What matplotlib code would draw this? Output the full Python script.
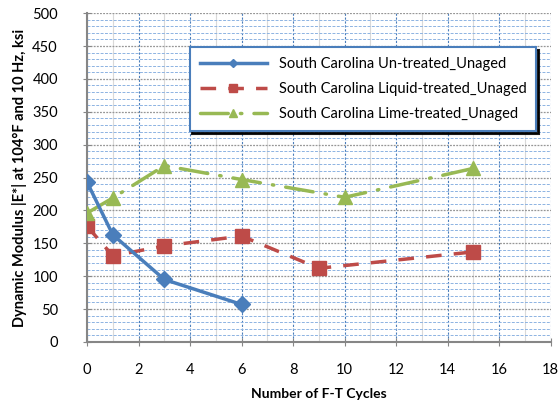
import matplotlib
matplotlib.use("Agg")
import matplotlib.pyplot as plt
from matplotlib.ticker import MultipleLocator

plt.rcParams['font.family'] = ['Lato', 'DejaVu Sans']

# data
untreated_x = [0, 1, 3, 6]
untreated_y = [243, 163, 95, 57]
liquid_x = [0, 1, 3, 6, 9, 15]
liquid_y = [176, 131, 146, 161, 112, 137]
lime_x = [0, 1, 3, 6, 10, 15]
lime_y = [196, 219, 268, 247, 220, 264]

labels = ["South Carolina Un-treated_Unaged",
          "South Carolina Liquid-treated_Unaged",
          "South Carolina Lime-treated_Unaged"]

fig = plt.figure(figsize=(5.58, 4.11), dpi=100)
ax = fig.add_axes([0.156, 0.168, 0.831, 0.800])

ax.plot(untreated_x, untreated_y, color='#4a7ebb', lw=2.5, marker='D', ms=8,
        label=labels[0], zorder=4)
ax.plot(liquid_x, liquid_y, color='#be4b48', lw=2.5, ls=(0, (4.5, 3.5)), marker='s',
        ms=10, label=labels[1], zorder=3)
ax.plot(lime_x, lime_y, color='#98b954', lw=2.5, ls=(0, (8, 3.5, 0.4, 3.5)),
        dash_capstyle='round', marker='^', ms=10, label=labels[2], zorder=3)

ax.set_xlim(0, 18)
ax.set_ylim(0, 500)
ax.xaxis.set_major_locator(MultipleLocator(2))
ax.xaxis.set_minor_locator(MultipleLocator(1))
ax.yaxis.set_major_locator(MultipleLocator(50))
ax.yaxis.set_minor_locator(MultipleLocator(10))

ax.grid(which='minor', axis='x', color='#d9d9d9', lw=0.8)
ax.grid(which='major', axis='x', color='#4a7ebb', lw=0.8, ls=(0, (2, 1.5)))
ax.grid(which='minor', axis='y', color='#8db3e2', lw=0.7, ls=(0, (3, 1.5)))
ax.grid(which='major', axis='y', color='#969696', lw=0.9, ls=(0, (1.5, 1)))
ax.set_axisbelow(True)

for s in ['top', 'right']:
    ax.spines[s].set_visible(False)
ax.spines['left'].set_color('#868686')
ax.spines['bottom'].set_color('#868686')
ax.spines['left'].set_linewidth(1.5)
ax.spines['bottom'].set_linewidth(1.5)
ax.tick_params(which='major', direction='inout', length=6, color='#868686',
               labelsize=10.5, pad=12)
ax.tick_params(which='minor', length=0)
ax.tick_params(axis='y', pad=18)

ax.set_xlabel("Number of F-T Cycles", fontsize=10, fontweight='bold', labelpad=8)
ax.set_ylabel("Dynamic Modulus |E*| at 104°F and 10 Hz, ksi", fontsize=10.5,
              fontweight='bold', labelpad=4)

leg = ax.legend(loc='upper right', bbox_to_anchor=(0.985, 0.92), fontsize=10.5,
                frameon=True, fancybox=False, shadow={'color': 'black', 'alpha': 0.9},
                handlelength=4.6, markerscale=0.55, borderpad=0.7,
                labelspacing=0.75, framealpha=1)
leg.get_frame().set_edgecolor('#4a7ebb')
leg.get_frame().set_linewidth(1.5)

fig.savefig("out.png", dpi=100)
